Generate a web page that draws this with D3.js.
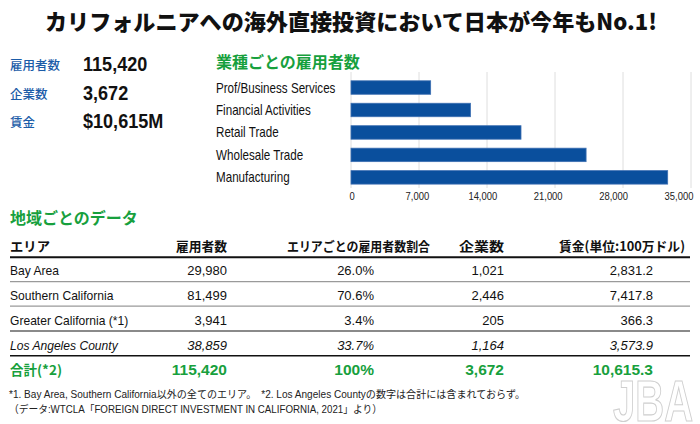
<!DOCTYPE html>
<html><head><meta charset="utf-8">
<script src="https://cdn.jsdelivr.net/npm/d3@7"></script>
<style>
html,body{margin:0;padding:0;background:#fff;}
svg{display:block;}
</style></head>
<body>
<svg id="c" width="700" height="424"></svg>
<script>
// ---- data ----
const title = "カリフォルニアへの海外直接投資において日本が今年もNo.1!";
const statLabels = ["雇用者数", "企業数", "賃金"];
const statValues = ["115,420", "3,672", "$10,615M"];

const barTitle = "業種ごとの雇用者数";
const industries = ["Prof/Business Services", "Financial Activities", "Retail Trade", "Wholesale Trade", "Manufacturing"];
const industryEmployees = [8200, 12300, 17500, 24200, 32600];
const xTicks = [0, 7000, 14000, 21000, 28000, 35000];

const tableTitle = "地域ごとのデータ";
const headers = ["エリア", "雇用者数", "エリアごとの雇用者数割合", "企業数", "賃金(単位:100万ドル)"];
const areas = ["Bay Area", "Southern California", "Greater California (*1)", "Los Angeles County", "合計(*2)"];
const areaEmployees = ["29,980", "81,499", "3,941", "38,859", "115,420"];
const areaShares = ["26.0%", "70.6%", "3.4%", "33.7%", "100%"];
const areaCompanies = ["1,021", "2,446", "205", "1,164", "3,672"];
const areaWages = ["2,831.2", "7,417.8", "366.3", "3,573.9", "10,615.3"];

const notes = [
  "*1. Bay Area, Southern California以外の全てのエリア。　*2. Los Angeles Countyの数字は合計には含まれておらず。",
  "（データ:WTCLA「FOREIGN DIRECT INVESTMENT IN CALIFORNIA, 2021」より）"
];

// ---- style ----
const GREEN = "#17a03d", BLUE = "#1b5ca8", BAR = "#0a4f9d";
const CJK = "'Noto Sans CJK JP','Noto Sans',sans-serif";
const SANS = "'Liberation Sans',Arial,'Noto Sans CJK JP',sans-serif";

const svg = d3.select("#c");

// condensed text helper (horizontal squeeze like Helvetica Condensed)
function ntext(parent, x, y, str, sx) {
  return parent.append("text")
    .attr("transform", `translate(${x},${y}) scale(${sx},1)`)
    .text(str).attr("font-family", SANS);
}

// watermark
ntext(svg, 613, 421, "JBA", 0.69)
  .attr("font-weight", "bold").attr("font-size", 58)
  .attr("fill", "#fff").attr("stroke", "#cfcfcf").attr("stroke-width", 1.2);

// title
svg.append("text").attr("x", 45).attr("y", 30).text(title)
  .attr("font-family", CJK).attr("font-weight", 900).attr("font-size", 22)
  .attr("textLength", 612).attr("lengthAdjust", "spacingAndGlyphs").attr("fill", "#111");

// left stats
const statY = d3.scalePoint().domain(statLabels).range([71, 128]);
statLabels.forEach((l, i) => {
  svg.append("text").attr("x", 10).attr("y", statY(l) - 1).text(l)
    .attr("font-family", CJK).attr("font-weight", 500).attr("font-size", 12.5).attr("fill", BLUE);
  ntext(svg, 83, statY(l), statValues[i], 0.86)
    .attr("font-weight", "bold").attr("font-size", 21).attr("fill", "#111");
});

// bar chart
svg.append("text").attr("x", 216).attr("y", 68).text(barTitle)
  .attr("font-family", CJK).attr("font-weight", "bold").attr("font-size", 16).attr("fill", GREEN);

const x = d3.scaleLinear().domain([0, 35000]).range([351, 691]);
const xLab = d3.scaleLinear().domain([0, 35000]).range([352, 679]);
const y = d3.scaleBand().domain(industries).range([76.3, 188.6]).paddingInner(0.4).paddingOuter(0.2);

svg.append("g").selectAll("line").data(xTicks).join("line")
  .attr("x1", d => x(d)).attr("x2", d => x(d)).attr("y1", 72).attr("y2", 188)
  .attr("stroke", "#dedede").attr("stroke-width", 1);

svg.append("g").selectAll("rect").data(industries).join("rect")
  .attr("x", x(0)).attr("y", d => y(d))
  .attr("width", (d, i) => x(industryEmployees[i]) - x(0)).attr("height", y.bandwidth())
  .attr("fill", BAR).attr("stroke", "#3d6fb2").attr("stroke-width", 0.8);

const catG = svg.append("g");
industries.forEach(d => {
  ntext(catG, 216, y(d) + y.bandwidth() / 2 + 5, d, 0.83)
    .attr("font-size", 14).attr("fill", "#111");
});

const tickG = svg.append("g");
xTicks.forEach(d => {
  ntext(tickG, xLab(d), 200, d3.format(",")(d), 0.82)
    .attr("text-anchor", "middle").attr("font-size", 11.5).attr("fill", "#222");
});

// table
svg.append("text").attr("x", 10).attr("y", 224).text(tableTitle)
  .attr("font-family", CJK).attr("font-weight", "bold").attr("font-size", 16).attr("fill", GREEN);

const colRight = [null, 227, 374, 504, 653];
const headerSpan = [[10, 50], [176, 227], [287, 430], [459, 504], [559, 685]];
headers.forEach((h, i) => {
  svg.append("text").attr("x", headerSpan[i][0]).attr("y", 251).text(h)
    .attr("font-family", CJK).attr("font-weight", "bold").attr("font-size", 13).attr("fill", "#111")
    .attr("textLength", headerSpan[i][1] - headerSpan[i][0]).attr("lengthAdjust", "spacingAndGlyphs");
});

const rowY = d3.scalePoint().domain(areas).range([274.5, 374.5]);
const cols = [areaEmployees, areaShares, areaCompanies, areaWages];
areas.forEach((a, r) => {
  const isTotal = r === areas.length - 1;
  const italic = r === 3;
  const yy = rowY(a);
  if (isTotal) {
    svg.append("text").attr("x", 10).attr("y", yy).text(a)
      .attr("font-family", CJK).attr("font-size", 13.5).attr("font-weight", "bold").attr("fill", GREEN);
  } else {
    ntext(svg, 10, yy, a, 0.93)
      .attr("font-size", 13).attr("font-style", italic ? "italic" : "normal").attr("fill", "#111");
  }
  cols.forEach((c, j) => {
    svg.append("text").attr("x", colRight[j + 1]).attr("y", yy).attr("text-anchor", "end").text(c[r])
      .attr("font-family", SANS).attr("font-size", isTotal ? 15.5 : 13)
      .attr("font-weight", isTotal ? "bold" : "normal").attr("font-style", italic ? "italic" : "normal")
      .attr("fill", isTotal ? GREEN : "#111");
  });
});

// table rules
const rules = [
  {y: 257.3, c: "#111", w: 2},
  {y: 281.7, c: "#9a9a9a", w: 1.2},
  {y: 306.2, c: "#9a9a9a", w: 1.2},
  {y: 331, c: "#8a8a8a", w: 2},
  {y: 355.7, c: "#111", w: 1.6}
];
svg.append("g").selectAll("line").data(rules).join("line")
  .attr("x1", 10).attr("x2", 690).attr("y1", d => d.y).attr("y2", d => d.y)
  .attr("stroke", d => d.c).attr("stroke-width", d => d.w);

// notes
const noteLen = [516, 373];
notes.forEach((n, i) => {
  svg.append("text").attr("x", 9).attr("y", 398 + i * 15).text(n)
    .attr("font-family", SANS).attr("font-size", 10.5).attr("fill", "#222")
    .attr("textLength", noteLen[i]).attr("lengthAdjust", "spacingAndGlyphs");
});
</script>
</body></html>
